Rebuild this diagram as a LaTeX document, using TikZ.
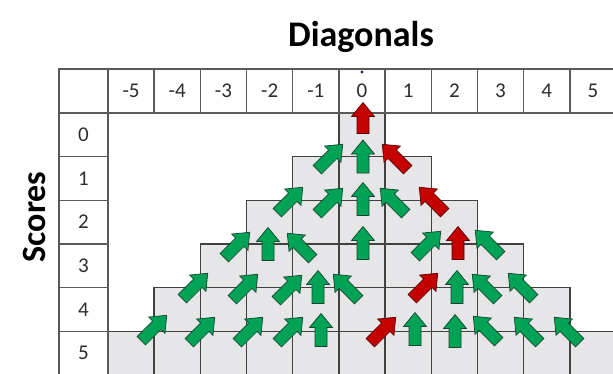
\documentclass[tikz,border=0pt]{standalone}
\usepackage{fontspec}
\setmainfont{Carlito}
\definecolor{cellgray}{RGB}{230,229,231}
\definecolor{gridcol}{RGB}{65,65,65}
\definecolor{hdrcol}{RGB}{90,90,90}
\definecolor{arrgreen}{RGB}{0,163,86}
\definecolor{arrgreenline}{RGB}{20,70,45}
\definecolor{arrred}{RGB}{196,0,0}
\definecolor{arrredline}{RGB}{90,0,0}
\definecolor{txtcol}{RGB}{45,45,45}
\begin{document}
\begin{tikzpicture}[x=1pt,y=-1pt,
  gridline/.style={draw=gridcol, line width=1.4pt},
  hdrline/.style={draw=hdrcol, line width=1.4pt},
  cellbox/.style={fill=cellgray, gridline},
  lab/.style={font=\fontsize{21}{23}\selectfont, text=txtcol},
  garrow/.style={fill=arrgreen, draw=arrgreenline, line width=0.7pt, line join=miter},
  rarrow/.style={fill=arrred, draw=arrredline, line width=0.7pt, line join=miter},
  pics/barr/.style n args={2}{code={
    \pgfmathsetmacro\hl{#1/2}
    \path[#2] (-\hl,-6) -- (\hl-14,-6) -- (\hl-14,-11.5) -- (\hl,0) -- (\hl-14,11.5) -- (\hl-14,6) -- (-\hl,6) -- cycle;
  }},
]
\useasboundingbox (0,0) rectangle (613,373);
\def\cw{46.18}
\def\rh{43.67}
% title and axis label
\node[font=\bfseries\fontsize{36}{40}\selectfont, anchor=base] (title) at (361,46) {Diagonals};
\node[font=\bfseries\fontsize{34}{40}\selectfont, anchor=base, rotate=90] (scores) at (45,217) {Scores};
% pyramid cells
\foreach \r in {0,...,5}{
  \pgfmathtruncatemacro\lo{-\r}
  \foreach \c in {\lo,...,\r}{
    \path[cellbox] ({108+(\c+5)*\cw},{113+\r*\rh}) rectangle ++(\cw,\rh);
  }
}
% header row
\path[hdrline, fill=white] (59,69) rectangle (108,113);
\foreach \c [count=\i from 0] in {-5,...,5}{
  \path[hdrline, fill=white] ({108+\i*\cw},69) rectangle ++(\cw,44);
  \node[lab] (h\i) at ({108+(\i+0.5)*\cw},91) {\c};
}
% row labels
\foreach \r in {0,...,5}{
  \path[hdrline, fill=white] (59,{113+\r*\rh}) rectangle ++(49,\rh);
  \node[lab] (r\r) at (83.5,{113+(\r+0.5)*\rh}) {\r};
}
\fill[fill={rgb,255:red,30;green,40;blue,90}] (362,72) circle (1.6);
% arrows row 0
\pic[rotate=90] at (363,118) {barr={31}{rarrow}};
% row 1
\pic[rotate=45] at (330,157) {barr={36}{garrow}};
\pic[rotate=90] at (363,156.5) {barr={33}{garrow}};
\pic[rotate=135] at (395,157) {barr={36}{rarrow}};
% row 2
\pic[rotate=45] at (290,200) {barr={36}{garrow}};
\pic[rotate=45] at (330,201) {barr={36}{garrow}};
\pic[rotate=90] at (363,199) {barr={33}{garrow}};
\pic[rotate=135] at (393,201) {barr={36}{garrow}};
\pic[rotate=135] at (432,200) {barr={36}{rarrow}};
% row 3
\pic[rotate=45] at (237,245) {barr={36}{garrow}};
\pic[rotate=90] at (268,244) {barr={33}{garrow}};
\pic[rotate=135] at (300,246) {barr={36}{garrow}};
\pic[rotate=90] at (363,243) {barr={33}{garrow}};
\pic[rotate=45] at (428,244) {barr={36}{garrow}};
\pic[rotate=90] at (458,243) {barr={33}{rarrow}};
\pic[rotate=135] at (488,243) {barr={36}{garrow}};
% row 4
\pic[rotate=45] at (195,286) {barr={36}{garrow}};
\pic[rotate=45] at (245,287) {barr={36}{garrow}};
\pic[rotate=45] at (289,288) {barr={36}{garrow}};
\pic[rotate=90] at (318,287) {barr={33}{garrow}};
\pic[rotate=135] at (346,287) {barr={36}{garrow}};
\pic[rotate=45] at (425,286) {barr={36}{rarrow}};
\pic[rotate=90] at (457,287) {barr={33}{garrow}};
\pic[rotate=135] at (485,287) {barr={36}{garrow}};
\pic[rotate=135] at (521,286) {barr={36}{garrow}};
% row 5
\pic[rotate=45] at (154,328) {barr={36}{garrow}};
\pic[rotate=45] at (202,330) {barr={36}{garrow}};
\pic[rotate=45] at (250,330) {barr={36}{garrow}};
\pic[rotate=45] at (290,330) {barr={36}{garrow}};
\pic[rotate=90] at (321,330) {barr={33}{garrow}};
\pic[rotate=45] at (383,330) {barr={36}{rarrow}};
\pic[rotate=90] at (415,329) {barr={33}{garrow}};
\pic[rotate=90] at (455,331) {barr={33}{garrow}};
\pic[rotate=135] at (486,329) {barr={36}{garrow}};
\pic[rotate=135] at (527,330) {barr={36}{garrow}};
\pic[rotate=135] at (567,330) {barr={36}{garrow}};
\end{tikzpicture}
\end{document}
